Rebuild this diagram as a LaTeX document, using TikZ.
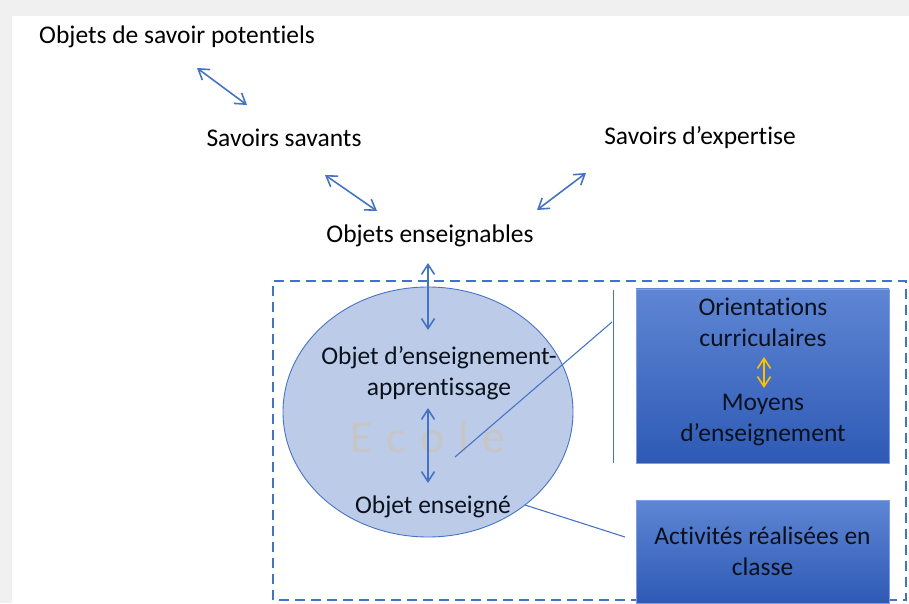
\documentclass[tikz,border=0pt]{standalone}
\usepackage{fontspec}
\setmainfont{Carlito}[Ligatures=NoCommon]
\usetikzlibrary{arrows.meta}
\definecolor{bleu}{HTML}{4472C4}
\definecolor{bleuclair}{HTML}{BCCBE8}
\definecolor{bleuhaut}{HTML}{5F86D4}
\definecolor{bleubas}{HTML}{2E5AB5}
\definecolor{orange}{HTML}{FFC000}

\begin{document}
\begin{tikzpicture}[font=\fontsize{14.5}{17.5}\selectfont]

\tikzset{fleche/.style={{Straight Barb[length=2mm,width=2.6mm]}-{Straight Barb[length=2mm,width=2.6mm]},bleu,line width=0.9pt}} %double fleche
\tikzset{boite/.style={draw=bleuhaut!80!white,top color=bleuhaut,bottom color=bleubas,text=black!85!bleu,align=center,minimum width=5.06cm}}

	\useasboundingbox (0,0) rectangle (18.18,12.06);
	\fill[gray!12] (0,0) rectangle (18.18,12.06);
	\fill[white] (0.24,0) rectangle (18.18,11.74);

	%----------savoirs------------
	\node[anchor=west] (pot) at (0.66,11.32) {Objets de savoir potentiels};
	\node (sav) at (5.68,9.30) {Savoirs savants};
	\node (exp) at (14.00,9.30) {Savoirs d’expertise};
	\node (ens) at (8.60,7.34) {Objets enseignables};

	\coordinate (a1) at (3.94,10.70); \coordinate (b1) at (4.94,9.96);
	\coordinate (a2) at (6.50,8.56);  \coordinate (b2) at (7.54,7.84);
	\coordinate (a3) at (11.72,8.60); \coordinate (b3) at (10.74,7.86);
	\draw [fleche] (a1) -- (b1);
	\draw [fleche] (a2) -- (b2);
	\draw [fleche] (a3) -- (b3);

	%----------ecole------------
	\draw [bleu,line width=1.2pt,dash pattern=on 2mm off 1.2mm] (5.46,0.06) rectangle (18.12,6.44);
	\draw [bleu,line width=0.5pt,fill=bleuclair] (8.56,3.82) ellipse [x radius=2.90,y radius=2.50];
	\node[text=white!55!gray,font=\fontsize{26}{30}\selectfont] (eco) at (8.56,3.32)
		{E\hspace{0.28cm}c\hspace{0.28cm}o\hspace{0.28cm}l\hspace{0.28cm}e};
	\node[align=center,text=black!85!bleu] (oea) at (8.78,4.60) {Objet d’enseignement-\\apprentissage};
	\node[text=black!85!bleu] (oe) at (8.66,1.92) {Objet enseigné};

	\coordinate (a4) at (8.56,6.80); \coordinate (b4) at (8.56,5.46);
	\coordinate (a5) at (8.56,3.90); \coordinate (b5) at (8.56,2.40);
	\draw [fleche] (a4) -- (b4);
	\draw [fleche] (a5) -- (b5);

	%----------moyens------------
	\node[boite,minimum height=3.48cm] (cur) at (15.25,4.54) {};
	\node[text=black!85!bleu,align=center] (ori) at (15.26,5.62) {Orientations\\curriculaires};
	\node[text=black!85!bleu,align=center] (moy) at (15.26,3.66) {Moyens\\d’enseignement};
	\coordinate (a6) at (15.28,4.92); \coordinate (b6) at (15.28,4.30);
	\draw [fleche,orange] (a6) -- (b6);

	\node[boite,minimum height=2.06cm] (act) at (15.25,1.03) {Activités réalisées en\\classe};

	%traits de rappel
	\coordinate (c1) at (9.10,2.92);  \coordinate (d1) at (12.24,5.62);
	\coordinate (h1) at (12.26,6.26); \coordinate (h2) at (12.26,2.80);
	\coordinate (c2) at (10.50,1.96); \coordinate (d2) at (12.50,1.32);
	\draw [bleu,line width=0.6pt] (c1) -- (d1);
	\draw [bleu,line width=0.45pt] (h1) -- (h2);
	\draw [bleu,line width=0.6pt] (c2) -- (d2);

\end{tikzpicture}
\end{document}
